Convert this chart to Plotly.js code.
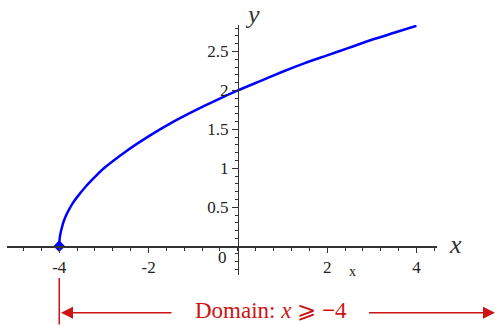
<!DOCTYPE html>
<html>
<head>
<meta charset="utf-8">
<script src="https://cdn.plot.ly/plotly-3.0.1.min.js"></script>
<style>
  html, body { margin: 0; padding: 0; background: #fff; }
  #chart { width: 496px; height: 326px; }
</style>
</head>
<body>
<div id="chart"></div>
<script>
// Curve values
const curveX = [-4, -3.99, -3.97, -3.94, -3.9, -3.85, -3.8, -3.7, -3.6, -3.4, -3.2, -3, -2.5, -2, -1.5, -1, -0.5, 0, 0.5, 1, 1.5, 2, 2.5, 3, 3.5, 4];
const curveY = [0, 0.1, 0.17, 0.24, 0.32, 0.39, 0.45, 0.55, 0.63, 0.77, 0.89, 1, 1.22, 1.41, 1.58, 1.73, 1.87, 2, 2.12, 2.24, 2.35, 2.45, 2.55, 2.65, 2.74, 2.83];

// Start point of the domain
const startX = [-4];
const startY = [0];

// Tick labels
const xTicks = [-4, -2, 2, 4];
const xTickText = ["-4", "-2", "2", "4"];
const yTicks = [0.5, 1, 1.5, 2, 2.5];
const yTickText = ["0.5", "1", "1.5", "2", "2.5"];

const serif = "Liberation Serif";
const red = "#cc1414";
const axisColor = "#333";

const xRange = [-5.17, 4.46];
const yRange = [-0.37, 2.84];

// data units -> paper units (annotations outside the axis ranges need paper refs)
function px(x) { return (x - xRange[0]) / (xRange[1] - xRange[0]); }
function py(y) { return (y - yRange[0]) / (yRange[1] - yRange[0]); }

const curve = {
  x: curveX,
  y: curveY,
  mode: "lines",
  line: { color: "#0000ff", width: 2.5, shape: "spline", smoothing: 0.6 },
  hoverinfo: "none",
  cliponaxis: false
};

const startPoint = {
  x: startX,
  y: startY,
  mode: "markers",
  marker: { symbol: "diamond", size: 9, color: "#0000ff" },
  hoverinfo: "none",
  cliponaxis: false
};

const labelFont = { family: serif, size: 17, color: "#222" };

function label(x, y, text, font) {
  return { x: px(x), y: py(y), xref: "paper", yref: "paper", xanchor: "center", yanchor: "middle",
           text: text, showarrow: false, font: font };
}

function arrow(x, y, ax, ay, head) {
  return { x: px(x), y: py(y), xref: "paper", yref: "paper", ax: ax, ay: ay, text: "", showarrow: true,
           arrowhead: head, arrowsize: 1.6, arrowwidth: 1.5, arrowcolor: red, standoff: 0, startstandoff: 0 };
}

const layout = {
  width: 496,
  height: 326,
  margin: { l: 7, r: 59, t: 25, b: 51 },
  paper_bgcolor: "#fff",
  plot_bgcolor: "#fff",
  showlegend: false,
  font: labelFont,
  xaxis: {
    range: xRange,
    anchor: "free",
    position: py(0),
    showgrid: false,
    zeroline: false,
    showline: true,
    linecolor: axisColor,
    linewidth: 1.5,
    tickmode: "array",
    tickvals: xTicks,
    ticktext: xTickText,
    ticks: "outside",
    ticklen: 5,
    tickwidth: 1.2,
    tickcolor: axisColor,
    minor: { tickmode: "linear", tick0: 0, dtick: 0.4, ticks: "outside", ticklen: 3, tickwidth: 1, tickcolor: axisColor, showgrid: false },
    tickfont: labelFont
  },
  yaxis: {
    range: yRange,
    anchor: "free",
    position: px(0),
    showgrid: false,
    zeroline: false,
    showline: true,
    linecolor: axisColor,
    linewidth: 1.5,
    tickmode: "array",
    tickvals: yTicks,
    ticktext: yTickText,
    ticks: "outside",
    ticklen: 6,
    tickwidth: 1.2,
    tickcolor: axisColor,
    minor: { tickmode: "linear", tick0: 0, dtick: 0.1, ticks: "outside", ticklen: 3, tickwidth: 1, tickcolor: axisColor, showgrid: false },
    tickfont: labelFont
  },
  annotations: [
    label(-0.35, -0.14, "0", labelFont),
    label(4.88, 0.02, "<i>x</i>", { family: serif, size: 26, color: "#333" }),
    label(0.33, 2.98, "<i>y</i>", { family: serif, size: 26, color: "#333" }),
    label(2.56, -0.32, "x", { family: serif, size: 14, color: "#222" }),
    // domain marker: vertical line at x = -4
    arrow(-4, -0.41, 0, 50, 0),
    // arrows either side of the label
    arrow(-3.96, -0.855, 112, 0, 2),
    arrow(5.77, -0.855, -128, 0, 2),
    label(0.75, -0.83, "Domain: <i>x</i> ⩾ <b>−</b>4", { family: serif, size: 23, color: red })
  ]
};

Plotly.newPlot("chart", [curve, startPoint], layout, { staticPlot: true });
</script>
</body>
</html>
